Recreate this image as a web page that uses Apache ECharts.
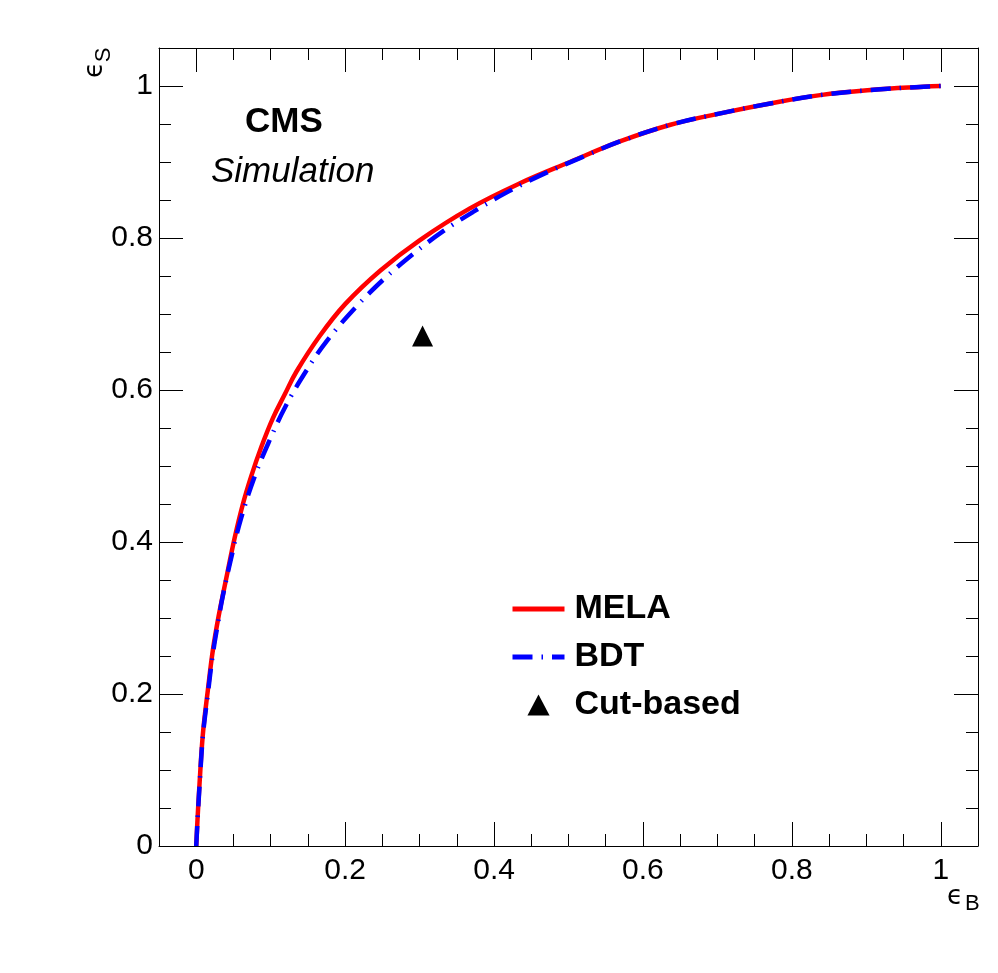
<!DOCTYPE html>
<html>
<head>
<meta charset="utf-8">
<script src="https://cdn.jsdelivr.net/npm/echarts@6/dist/echarts.min.js"></script>
<style>
  html, body { margin: 0; padding: 0; background: #fff; }
  #main { width: 998px; height: 973px; }
</style>
</head>
<body>
<div id="main"></div>
<script>
// ROC curves: background efficiency vs signal efficiency
var melaEffB = [0, 0.002, 0.0045, 0.009, 0.0156, 0.0224, 0.030, 0.0403, 0.0515, 0.0627, 0.074, 0.0874, 0.103, 0.1188, 0.1345, 0.1658, 0.2, 0.247, 0.3, 0.3676, 0.4348, 0.502, 0.569, 0.637, 0.704, 0.771, 0.838, 0.906, 0.977, 1];
var melaEffS = [0, 0.04, 0.083, 0.148, 0.205, 0.258, 0.302, 0.352, 0.405, 0.45, 0.487, 0.525, 0.563, 0.594, 0.624, 0.671, 0.713, 0.757, 0.797, 0.839, 0.872, 0.9, 0.927, 0.949, 0.964, 0.977, 0.988, 0.9947, 0.999, 1];

var bdtEffB = [0, 0.002, 0.0045, 0.009, 0.0156, 0.0224, 0.030, 0.0359, 0.0493, 0.0605, 0.0784, 0.0986, 0.1197, 0.1457, 0.175, 0.213, 0.251, 0.2913, 0.3317, 0.373, 0.419, 0.466, 0.52, 0.569, 0.637, 0.704, 0.771, 0.838, 0.906, 0.977, 1];
var bdtEffS = [0, 0.038, 0.08, 0.145, 0.2, 0.253, 0.298, 0.33, 0.389, 0.432, 0.486, 0.534, 0.578, 0.622, 0.664, 0.7075, 0.745, 0.779, 0.809, 0.835, 0.861, 0.884, 0.907, 0.927, 0.949, 0.964, 0.977, 0.988, 0.9947, 0.999, 1];

var cutEffB = [0.304];
var cutEffS = [0.671];

var seriesNames = ['MELA', 'BDT', 'Cut-based'];

function pairs(xs, ys) {
    return xs.map(function (x, i) { return [x, ys[i]]; });
}

var chartDom = document.getElementById('main');
var myChart = echarts.init(chartDom, null, { renderer: 'canvas' });
var font = 'Liberation Sans';

function majorLabel(v) {
    var k = v * 5;
    if (Math.abs(k - Math.round(k)) > 1e-6) return '';
    return String(Math.round(v * 10) / 10);
}

function makeAxis(pos, min, max, major, labels) {
    var a = {
        type: 'value',
        position: pos,
        min: min,
        max: max,
        gridIndex: 0,
        splitLine: { show: false },
        axisLine: { show: major, onZero: false, lineStyle: { color: '#000', width: 1 } },
        axisTick: { show: true, inside: true, length: major ? 24 : 12, lineStyle: { color: '#000', width: 1 } },
        axisLabel: { show: false }
    };
    if (major) {
        a.splitNumber = 5;
        a.minInterval = 0.2;
        a.maxInterval = 0.2;
    } else {
        a.interval = 0.05;
    }
    if (labels) {
        a.axisLabel = {
            show: true,
            fontSize: 30,
            fontFamily: font,
            color: '#000',
            margin: pos === 'bottom' ? 10 : 6,
            formatter: majorLabel,
            hideOverlap: false
        };
    }
    return a;
}

var option = {
    animation: false,
    backgroundColor: '#fff',
    grid: { left: 159, right: 20, top: 48, bottom: 127, containLabel: false },
    xAxis: [
        makeAxis('bottom', -0.05, 1.05, true, true),
        makeAxis('bottom', -0.05, 1.05, false, false),
        makeAxis('top', -0.05, 1.05, true, false),
        makeAxis('top', -0.05, 1.05, false, false)
    ],
    yAxis: [
        makeAxis('left', 0, 1.05, true, true),
        makeAxis('left', 0, 1.05, false, false),
        makeAxis('right', 0, 1.05, true, false),
        makeAxis('right', 0, 1.05, false, false)
    ],
    legend: {
        orient: 'vertical',
        left: 510,
        top: 592,
        padding: 0,
        itemWidth: 52,
        itemHeight: 21,
        itemGap: 14,
        symbolKeepAspect: true,
        textStyle: {
            fontSize: 34,
            fontWeight: 'bold',
            fontFamily: font,
            color: '#000',
            lineHeight: 34,
            padding: [0, 0, 0, 5]
        },
        data: [
            { name: seriesNames[0], itemStyle: { opacity: 0 }, lineStyle: { width: 5 } },
            { name: seriesNames[1], itemStyle: { opacity: 0 }, lineStyle: { width: 5 } },
            { name: seriesNames[2], icon: 'path://M10,0 L20,19 L0,19 Z' }
        ]
    },
    graphic: [
        { type: 'text', left: 245, top: 105, style: { text: 'CMS', font: 'bold 35px "Liberation Sans"', fill: '#000' } },
        { type: 'text', left: 211, top: 155, style: { text: 'Simulation', font: 'italic 35px "Liberation Sans"', fill: '#000' } },
        { type: 'text', left: 947, top: 884, style: { text: '\u03F5', font: '26px "DejaVu Sans"', fill: '#000' } },
        { type: 'text', left: 965, top: 893, style: { text: 'B', font: '22px "Liberation Sans"', fill: '#000' } },
        { type: 'text', x: 95, y: 70, rotation: Math.PI / 2, style: { text: '\u03F5', font: '26px "DejaVu Sans"', fill: '#000', align: 'center', verticalAlign: 'middle' } },
        { type: 'text', x: 104, y: 55, rotation: Math.PI / 2, style: { text: 'S', font: '22px "Liberation Sans"', fill: '#000', align: 'center', verticalAlign: 'middle' } }
    ],
    series: [
        {
            name: 'MELA',
            type: 'line',
            data: pairs(melaEffB, melaEffS),
            symbol: 'none',
            smooth: 0.4,
            lineStyle: { color: '#ff0000', width: 4.5 },
            itemStyle: { color: '#ff0000' }
        },
        {
            name: 'BDT',
            type: 'line',
            data: pairs(bdtEffB, bdtEffS),
            symbol: 'none',
            smooth: 0.4,
            lineStyle: { color: '#0000ff', width: 4.5, type: [20, 9, 1.5, 9], cap: 'butt' },
            itemStyle: { color: '#0000ff' }
        },
        {
            name: 'Cut-based',
            type: 'scatter',
            data: pairs(cutEffB, cutEffS),
            symbol: 'triangle',
            symbolSize: 21,
            itemStyle: { color: '#000', opacity: 1 }
        }
    ]
};

option && myChart.setOption(option);
</script>
</body>
</html>
